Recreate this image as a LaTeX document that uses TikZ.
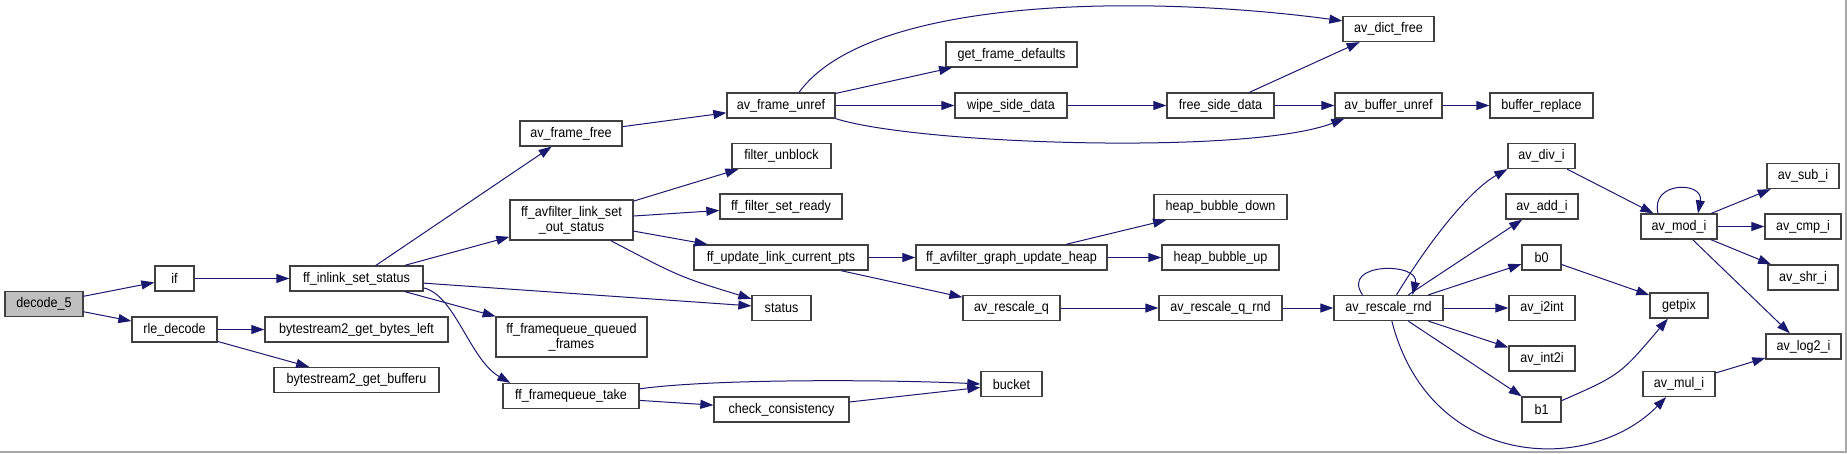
\documentclass[tikz,border=0pt]{standalone}
\usepackage{fontspec}
\setmainfont{Liberation Sans}[FakeStretch=0.9]
\usetikzlibrary{arrows.meta}
\definecolor{edgeblue}{HTML}{191970}
\definecolor{callerfill}{HTML}{BFBFBF}
\definecolor{boxline}{HTML}{404040}
\definecolor{frameline}{HTML}{A8A8A8}

\begin{document}
\begin{tikzpicture}[
      x=1pt, y=1pt,
      box/.style={rectangle, draw=boxline, line width=1.3pt, fill=white,
                  minimum height=25pt, inner sep=0pt, align=center,
                  font=\fontsize{14}{15}\selectfont},
      arr/.style={-{Triangle[length=13pt, width=9pt]}, line width=1pt, edgeblue}
    ]
      \fill[white] (0,0) rectangle (1847,-453);
      \useasboundingbox (0,0) rectangle (1847,-453);
      \draw[frameline, line width=1.5pt] (1846,0) -- (1846,-452) -- (0,-452);

      \node[box, minimum width=78pt, fill=callerfill] (decode) at (44,-304) {decode\_5};
      \node[box, minimum width=39pt] (ifnode) at (174.5,-278.5) {if};
      \node[box, minimum width=85pt] (rle) at (174.5,-329.5) {rle\_decode};
      \node[box, minimum width=133pt] (inlink) at (356.5,-278.5) {ff\_inlink\_set\_status};
      \node[box, minimum width=183pt] (bytesleft) at (356.5,-329.5) {bytestream2\_get\_bytes\_left};
      \node[box, minimum width=165pt] (bufferu) at (356.5,-380) {bytestream2\_get\_bufferu};
      \node[box, minimum width=102pt] (framefree) at (571,-133.5) {av\_frame\_free};
      \node[box, minimum width=123pt, minimum height=40pt] (outstatus) at (571.5,-220) {ff\_avfilter\_link\_set\\\_out\_status};
      \node[box, minimum width=151pt, minimum height=40pt] (queued) at (571.5,-337) {ff\_framequeue\_queued\\\_frames};
      \node[box, minimum width=136pt] (fqtake) at (571,-396) {ff\_framequeue\_take};
      \node[box, minimum width=108pt] (frameunref) at (781,-105.5) {av\_frame\_unref};
      \node[box, minimum width=99pt] (unblock) at (781.5,-156) {filter\_unblock};
      \node[box, minimum width=122pt] (setready) at (781,-206.5) {ff\_filter\_set\_ready};
      \node[box, minimum width=174pt] (updatepts) at (781,-257.5) {ff\_update\_link\_current\_pts};
      \node[box, minimum width=59pt] (status) at (781.5,-308) {status};
      \node[box, minimum width=135pt] (checkcons) at (781.5,-409.5) {check\_consistency};
      \node[box, minimum width=131pt] (defaults) at (1011.5,-54.5) {get\_frame\_defaults};
      \node[box, minimum width=112pt] (wipe) at (1011,-105.5) {wipe\_side\_data};
      \node[box, minimum width=191pt] (heap) at (1011.5,-257.5) {ff\_avfilter\_graph\_update\_heap};
      \node[box, minimum width=97pt] (rescaleq) at (1011.5,-308) {av\_rescale\_q};
      \node[box, minimum width=61pt] (bucket) at (1011.5,-384) {bucket};
      \node[box, minimum width=107pt] (freeside) at (1220.5,-105.5) {free\_side\_data};
      \node[box, minimum width=133pt] (bubbledown) at (1220.5,-207) {heap\_bubble\_down};
      \node[box, minimum width=117pt] (bubbleup) at (1220.5,-257.5) {heap\_bubble\_up};
      \node[box, minimum width=123pt] (rescaleqrnd) at (1220.5,-308) {av\_rescale\_q\_rnd};
      \node[box, minimum width=91pt] (dictfree) at (1388.5,-29) {av\_dict\_free};
      \node[box, minimum width=107pt] (bufunref) at (1388.5,-105.5) {av\_buffer\_unref};
      \node[box, minimum width=109pt] (rescalernd) at (1388.5,-308) {av\_rescale\_rnd};
      \node[box, minimum width=103pt] (bufreplace) at (1541.5,-105.5) {buffer\_replace};
      \node[box, minimum width=67pt] (divi) at (1541.5,-156) {av\_div\_i};
      \node[box, minimum width=72pt] (addi) at (1542,-206.5) {av\_add\_i};
      \node[box, minimum width=39pt] (bzero) at (1541.5,-257.5) {b0};
      \node[box, minimum width=66pt] (itoint) at (1542,-308) {av\_i2int};
      \node[box, minimum width=66pt] (inttoi) at (1542,-358.5) {av\_int2i};
      \node[box, minimum width=39pt] (bone) at (1541.5,-409.5) {b1};
      \node[box, minimum width=76pt] (modi) at (1679,-226.5) {av\_mod\_i};
      \node[box, minimum width=58pt] (getpix) at (1679,-305.5) {getpix};
      \node[box, minimum width=72pt] (muli) at (1679,-384) {av\_mul\_i};
      \node[box, minimum width=72pt] (subi) at (1803,-176) {av\_sub\_i};
      \node[box, minimum width=76pt] (cmpi) at (1803,-226.5) {av\_cmp\_i};
      \node[box, minimum width=70pt] (shri) at (1803,-277.5) {av\_shr\_i};
      \node[box, minimum width=75pt] (logi) at (1803.5,-346.5) {av\_log2\_i};

      \draw[arr] (decode) -- (ifnode);
      \draw[arr] (decode) -- (rle);
      \draw[arr] (ifnode) -- (inlink);
      \draw[arr] (rle) -- (bytesleft);
      \draw[arr] (rle) -- (bufferu);
      \draw[arr] (inlink) -- (framefree);
      \draw[arr] (inlink) -- (outstatus);
      \draw[arr] (inlink) -- (status);
      \draw[arr] (inlink) -- (queued);
      \draw[arr] (inlink.-8) .. controls (455,-295) and (470,-360) .. ([xshift=8pt]fqtake.north west);
      \draw[arr] (framefree) -- (frameunref);
      \draw[arr] ([xshift=18pt]frameunref.north) .. controls (870,5) and (1150,5) .. (dictfree.170);
      \draw[arr] (frameunref) -- (defaults);
      \draw[arr] (frameunref) -- (wipe);
      \draw[arr] (frameunref.south east) .. controls (920,-145) and (1250,-155) .. ([xshift=10pt]bufunref.south west);
      \draw[arr] (wipe) -- (freeside);
      \draw[arr] (freeside) -- (dictfree);
      \draw[arr] (freeside) -- (bufunref);
      \draw[arr] (bufunref) -- (bufreplace);
      \draw[arr] (outstatus) -- (unblock);
      \draw[arr] (outstatus) -- (setready);
      \draw[arr] (outstatus) -- (updatepts);
      \draw[arr] (outstatus) .. controls (680,-277) .. (status);
      \draw[arr] (updatepts) -- (heap);
      \draw[arr] (updatepts) -- (rescaleq);
      \draw[arr] (heap) -- (bubbledown);
      \draw[arr] (heap) -- (bubbleup);
      \draw[arr] (rescaleq) -- (rescaleqrnd);
      \draw[arr] (rescaleqrnd) -- (rescalernd);
      \draw[arr] ([xshift=-26pt]rescalernd.north) .. controls (1340,-262) and (1420,-262) .. ([xshift=24pt]rescalernd.north);
      \draw[arr] (rescalernd) .. controls (1430,-240) and (1470,-190) .. (divi.south west);
      \draw[arr] (rescalernd) -- (addi);
      \draw[arr] (rescalernd) -- (bzero);
      \draw[arr] (rescalernd) -- (itoint);
      \draw[arr] (rescalernd) -- (inttoi);
      \draw[arr] (rescalernd) -- (bone);
      \draw[arr] (rescalernd) .. controls (1430,-470) and (1590,-475) .. (muli);
      \draw[arr] (divi) -- (modi);
      \draw[arr] ([xshift=-21pt]modi.north) .. controls (1650,-181) and (1704,-181) .. ([xshift=19pt]modi.north);
      \draw[arr] (modi) -- (subi);
      \draw[arr] (modi) -- (cmpi);
      \draw[arr] (modi) -- (shri);
      \draw[arr] (modi) -- (logi);
      \draw[arr] (bzero) -- (getpix);
      \draw[arr] (bone) .. controls (1620,-375) .. (getpix);
      \draw[arr] (muli) -- (logi);
      \draw[arr] (fqtake.6) .. controls (720,-378) and (900,-380) .. (bucket.west);
      \draw[arr] (fqtake) -- (checkcons);
      \draw[arr] (checkcons) -- (bucket);
    \end{tikzpicture}
\end{document}
